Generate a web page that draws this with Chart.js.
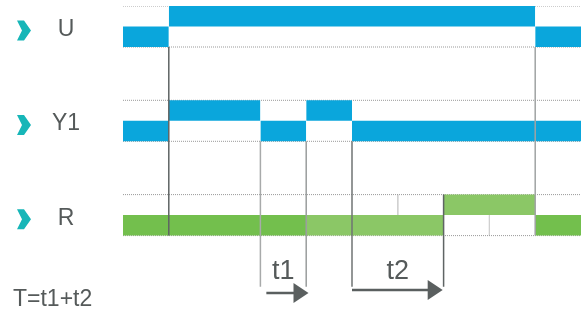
<!DOCTYPE html>
<html>
<head>
<meta charset="utf-8">
<script src="https://cdn.jsdelivr.net/npm/chart.js@4.4.0/dist/chart.umd.min.js"></script>
<style>
  html, body { margin: 0; padding: 0; background: #fff; }
  #wrap { width: 584px; height: 314px; }
</style>
</head>
<body>
<div id="wrap"><canvas id="chart"></canvas></div>
<script>
// timing data (x = time steps, states: 0 = low, 1 = high)
const signals = ['U', 'Y1', 'R'];
const uEdges = [0, 1, 9, 10];
const uStates = [0, 1, 0];
const y1Edges = [0, 1, 3, 4, 5, 10];
const y1States = [0, 1, 0, 1, 0];
const rEdges = [0, 4, 7, 9, 10];
const rStates = [0, 0, 1, 0];
const rShades = ['dark', 'light', 'light', 'dark'];
const markerTimes = [1, 3, 4, 5, 7, 9];
const rGridTimes = [6, 8];
const t1Span = [3.13, 4.05];
const t2Span = [5.0, 6.98];
const timeLabels = ['t1', 't2'];
const formula = 'T=t1+t2';

const ROW_STEP = 4.6;      // y units between signal rows (1 unit = half a row)
const ARROW_END = 13.7;
const BLUE = '#0aa6dc';
const GREEN = { dark: '#73bf4d', light: '#8bc766' };
const TEXT = '#555a5a';

const rowTop = i => i * ROW_STEP;

const datasets = [];

// band segments
const addBands = (row, edges, states, colorFor) => {
    for (let i = 0; i < states.length; i++) {
        const top = rowTop(row) + (states[i] ? 0 : 1);
        datasets.push({
            data: [{ x: edges[i], y: top }, { x: edges[i + 1], y: top }],
            fill: { value: top + 1 },
            backgroundColor: colorFor(i),
            borderWidth: 0,
            pointRadius: 0,
            order: 2
        });
    }
};
addBands(0, uEdges, uStates, () => BLUE);
addBands(1, y1Edges, y1States, () => BLUE);
addBands(2, rEdges, rStates, i => GREEN[rShades[i]]);

// dotted row borders
signals.forEach((s, row) => {
    [rowTop(row), rowTop(row) + 2].forEach(y => {
        datasets.push({
            data: [{ x: 0, y: y }, { x: 10, y: y }],
            borderColor: '#9a9a9a',
            borderWidth: 1,
            borderDash: [1, 1],
            pointRadius: 0,
            order: 3
        });
    });
});

// faint grid in R row
rGridTimes.forEach((t, i) => {
    const y0 = rowTop(2) + i;
    datasets.push({
        data: [{ x: t, y: y0 }, { x: t, y: y0 + 1 }],
        borderColor: '#d0d0d0',
        borderWidth: 1,
        pointRadius: 0,
        order: 3
    });
});

// vertical markers
const markerColors = ['#5f6464', '#a8aaaa', '#9a9d9d', '#707474', '#5f6464', '#a0a3a3'];
markerTimes.forEach((t, i) => {
    let from, to;
    if (t === 1 || t === 9) { from = rowTop(0) + 2; to = rowTop(2) + 2; }
    else if (t === 7) { from = rowTop(2); to = ARROW_END; }
    else { from = rowTop(1) + 2; to = ARROW_END; }
    datasets.push({
        data: [{ x: t, y: from }, { x: t, y: to }],
        borderColor: markerColors[i],
        borderWidth: 1.5,
        pointRadius: 0,
        order: 0
    });
});

// arrows
[[t1Span, 14.0], [t2Span, 13.85]].forEach(([span, y]) => {
    datasets.push({
        data: [{ x: span[0], y: y }, { x: span[1] - 0.2, y: y }],
        borderColor: '#5a5f5f',
        borderWidth: 2.5,
        pointRadius: 0,
        arrow: true,
        order: 0
    });
});

const arrowHeads = {
    id: 'arrowHeads',
    afterDatasetsDraw(chart) {
        const ctx = chart.ctx;
        chart.data.datasets.forEach((ds, i) => {
            if (!ds.arrow) return;
            const pts = chart.getDatasetMeta(i).data;
            const end = pts[pts.length - 1];
            const tip = end.x + 0.2 * (chart.scales.x.getPixelForValue(1) - chart.scales.x.getPixelForValue(0));
            ctx.save();
            ctx.fillStyle = ds.borderColor;
            ctx.beginPath();
            ctx.moveTo(tip, end.y);
            ctx.lineTo(tip - 15, end.y - 10);
            ctx.lineTo(tip - 15, end.y + 10);
            ctx.closePath();
            ctx.fill();
            ctx.restore();
        });
    }
};

const labels = {
    id: 'labels',
    afterDraw(chart) {
        const ctx = chart.ctx;
        const xs = chart.scales.x, ys = chart.scales.y;
        ctx.save();
        signals.forEach((s, row) => {
            const c = ys.getPixelForValue(rowTop(row) + 1.2);
            ctx.fillStyle = '#17b6b8';
            ctx.beginPath();
            ctx.moveTo(17, c - 10);
            ctx.lineTo(24, c - 10);
            ctx.lineTo(31, c);
            ctx.lineTo(24, c + 10);
            ctx.lineTo(17, c + 10);
            ctx.lineTo(22, c);
            ctx.closePath();
            ctx.fill();

            ctx.fillStyle = TEXT;
            ctx.font = '23px "Liberation Sans", Arial, sans-serif';
            ctx.textAlign = 'center';
            ctx.textBaseline = 'alphabetic';
            ctx.fillText(s, 66, ys.getPixelForValue(rowTop(row) + 1.47));
        });

        ctx.font = '27px "Liberation Sans", Arial, sans-serif';
        ctx.textAlign = 'center';
        ctx.fillText(timeLabels[0], xs.getPixelForValue((markerTimes[1] + markerTimes[2]) / 2), ys.getPixelForValue(13.32));
        ctx.fillText(timeLabels[1], xs.getPixelForValue((markerTimes[3] + markerTimes[4]) / 2), ys.getPixelForValue(13.32));

        ctx.font = '23px "Liberation Sans", Arial, sans-serif';
        ctx.textAlign = 'left';
        ctx.fillText(formula, 13, ys.getPixelForValue(14.63));
        ctx.restore();
    }
};

new Chart(document.getElementById('chart'), {
    type: 'line',
    data: { datasets: datasets },
    options: {
        responsive: true,
        maintainAspectRatio: false,
        animation: false,
        layout: { padding: { left: 123, right: 3, top: 6, bottom: 0 } },
        scales: {
            x: { type: 'linear', min: 0, max: 10, display: false },
            y: { type: 'linear', min: 0, max: 308 / 20.5, reverse: true, display: false }
        },
        plugins: {
            legend: { display: false },
            tooltip: { enabled: false }
        },
        elements: { line: { tension: 0 } }
    },
    plugins: [arrowHeads, labels]
});
</script>
</body>
</html>
